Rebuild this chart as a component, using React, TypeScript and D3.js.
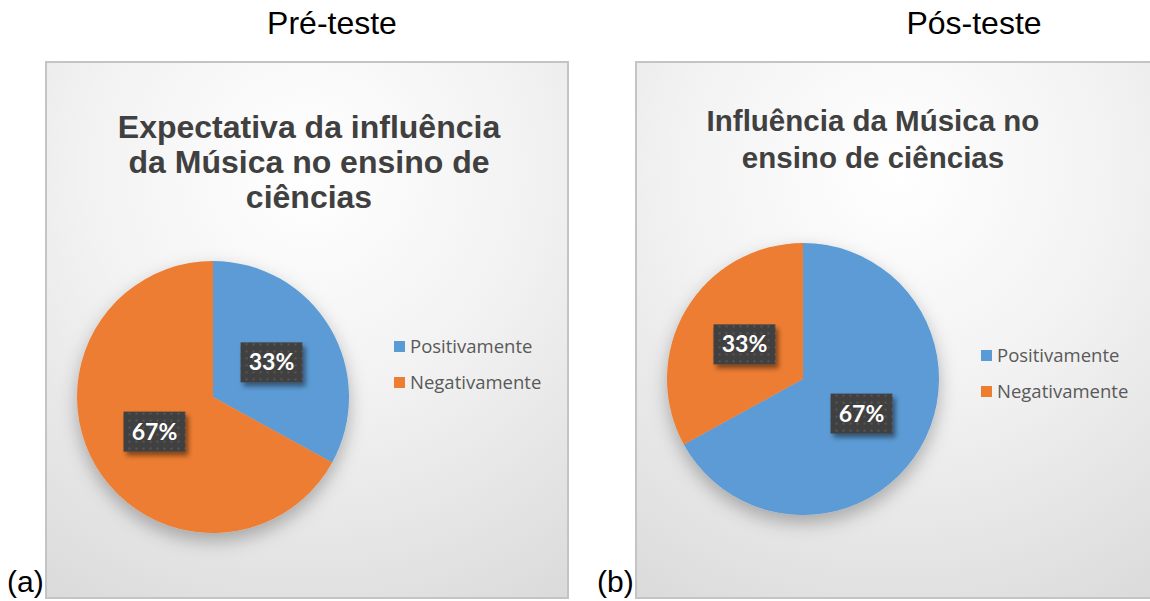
import { useEffect, useRef } from 'react';
import * as d3 from 'd3';

const categories = ['Positivamente', 'Negativamente'];
const preValues = [33, 67];
const posValues = [67, 33];
const colors = ['#5B9BD5', '#ED7D31'];
const headers = ['Pré-teste', 'Pós-teste'];
const panelTags = ['(a)', '(b)'];
const preTitle = ['Expectativa da influência', 'da Música no ensino de', 'ciências'];
const posTitle = ['Influência da Música no', 'ensino de ciências'];

interface PanelCfg {
  x: number;
  w: number;
  header: string;
  headerX: number;
  tag: string;
  tagX: number;
  title: string[];
  titleX: number;
  titleY: number;
  titleSize: number;
  titleGap: number;
  values: number[];
  cx: number;
  cy: number;
  legendX: number;
  legendY: number;
}

const W = 1150;
const H = 601;

export default function App() {
  const svgRef = useRef<SVGSVGElement>(null);

  useEffect(() => {
    if (!svgRef.current) return;
    const svg = d3.select(svgRef.current);
    svg.selectAll('*').remove();

    const defs = svg.append('defs');

    const bg = defs.append('radialGradient')
      .attr('id', 'panelBg')
      .attr('cx', '50%').attr('cy', '20%').attr('r', '95%');
    bg.append('stop').attr('offset', '0%').attr('stop-color', '#ffffff');
    bg.append('stop').attr('offset', '45%').attr('stop-color', '#f2f2f2');
    bg.append('stop').attr('offset', '100%').attr('stop-color', '#dadada');

    const pieShadow = defs.append('filter').attr('id', 'pieShadow')
      .attr('x', '-30%').attr('y', '-30%').attr('width', '160%').attr('height', '160%');
    pieShadow.append('feDropShadow')
      .attr('dx', 0).attr('dy', 8).attr('stdDeviation', 9)
      .attr('flood-color', '#000').attr('flood-opacity', 0.28);

    const boxShadow = defs.append('filter').attr('id', 'boxShadow')
      .attr('x', '-30%').attr('y', '-30%').attr('width', '170%').attr('height', '170%');
    boxShadow.append('feDropShadow')
      .attr('dx', 3).attr('dy', 4).attr('stdDeviation', 2.5)
      .attr('flood-color', '#000').attr('flood-opacity', 0.45);

    const dots = defs.append('pattern')
      .attr('id', 'dots').attr('patternUnits', 'userSpaceOnUse')
      .attr('width', 7).attr('height', 7);
    dots.append('rect').attr('width', 7).attr('height', 7).attr('fill', '#404040');
    dots.append('rect').attr('x', 2).attr('y', 2).attr('width', 2).attr('height', 2).attr('fill', '#575757');

    const panels: PanelCfg[] = [
      {
        x: 46, w: 522, header: headers[0], headerX: 332, tag: panelTags[0], tagX: 7,
        title: preTitle, titleX: 309, titleY: 138, titleSize: 32, titleGap: 35, values: preValues,
        cx: 213, cy: 397, legendX: 394, legendY: 347,
      },
      {
        x: 636, w: 520, header: headers[1], headerX: 974, tag: panelTags[1], tagX: 597,
        title: posTitle, titleX: 873, titleY: 131, titleSize: 29.5, titleGap: 37, values: posValues,
        cx: 803, cy: 379, legendX: 981, legendY: 356,
      },
    ];

    const pie = d3.pie<number>().sort(null).value(d => d);
    const R = 136;
    const arc = d3.arc<d3.PieArcDatum<number>>().innerRadius(0).outerRadius(R);
    const labelArc = d3.arc<d3.PieArcDatum<number>>().innerRadius(R * 0.5).outerRadius(R * 0.5);

    panels.forEach(p => {
      svg.append('text')
        .attr('x', p.headerX).attr('y', 34)
        .attr('text-anchor', 'middle')
        .attr('font-family', '"Liberation Sans", Arial, sans-serif')
        .attr('font-size', 32)
        .attr('fill', '#000')
        .text(p.header);

      // panel tag sits just left of the box, near the bottom
      svg.append('text')
        .attr('x', p.tagX).attr('y', 592)
        .attr('font-family', '"Liberation Sans", Arial, sans-serif')
        .attr('font-size', 30)
        .attr('fill', '#000')
        .text(p.tag);

      svg.append('rect')
        .attr('x', p.x).attr('y', 62)
        .attr('width', p.w).attr('height', 536)
        .attr('fill', 'url(#panelBg)')
        .attr('stroke', '#c4c4c4')
        .attr('stroke-width', 2);

      const title = svg.append('text')
        .attr('text-anchor', 'middle')
        .attr('font-family', '"Liberation Sans", Arial, sans-serif')
        .attr('font-weight', 'bold')
        .attr('font-size', p.titleSize)
        .attr('fill', '#404040');
      p.title.forEach((line, i) => {
        title.append('tspan')
          .attr('x', p.titleX)
          .attr('y', p.titleY + i * p.titleGap)
          .text(line);
      });

      const arcs = pie(p.values);
      const g = svg.append('g').attr('transform', `translate(${p.cx},${p.cy})`);
      g.append('g').attr('filter', 'url(#pieShadow)')
        .selectAll('path')
        .data(arcs)
        .join('path')
        .attr('d', arc)
        .attr('fill', (_, i) => colors[i]);

      arcs.forEach(a => {
        const [lx, ly] = labelArc.centroid(a);
        const lg = g.append('g').attr('transform', `translate(${lx},${ly})`);
        lg.append('rect')
          .attr('x', -31).attr('y', -20)
          .attr('width', 62).attr('height', 40)
          .attr('fill', 'url(#dots)')
          .attr('filter', 'url(#boxShadow)');
        lg.append('text')
          .attr('text-anchor', 'middle')
          .attr('y', 8)
          .attr('font-family', 'Lato, "Open Sans", sans-serif')
          .attr('font-weight', 'bold')
          .attr('font-size', 23)
          .attr('fill', '#ffffff')
          .text(`${a.data}%`);
      });

      const legend = svg.append('g').attr('transform', `translate(${p.legendX},${p.legendY})`);
      categories.forEach((c, i) => {
        legend.append('rect')
          .attr('x', 0).attr('y', i * 36 - 6)
          .attr('width', 11).attr('height', 11)
          .attr('fill', colors[i]);
        legend.append('text')
          .attr('x', 16).attr('y', i * 36 + 6)
          .attr('font-family', '"Open Sans", sans-serif')
          .attr('font-size', 18.5)
          .attr('fill', '#595959')
          .text(c);
      });
    });
  }, []);

  return (
    <svg
      ref={svgRef}
      width={W}
      height={H}
      style={{ position: 'absolute', left: 0, top: 0, background: '#fff' }}
    />
  );
}
